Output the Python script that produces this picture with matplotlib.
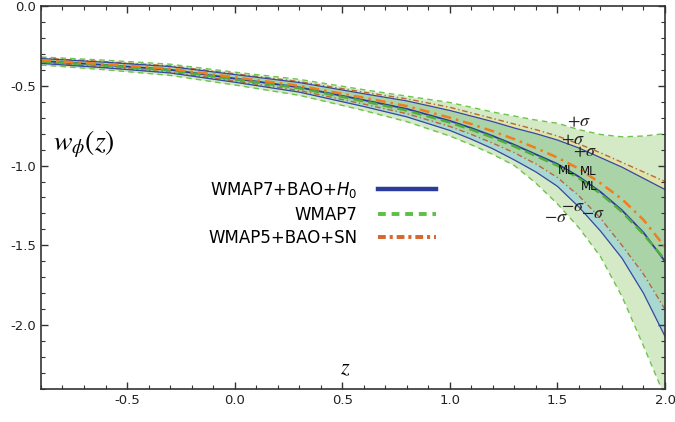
import matplotlib
matplotlib.use("Agg")
import matplotlib.pyplot as plt
from matplotlib.lines import Line2D
from matplotlib.font_manager import FontProperties
from matplotlib.ticker import MultipleLocator

plt.rcParams['axes.unicode_minus'] = False
plt.rcParams['mathtext.fontset'] = 'stix'

# redshift grid
z = [-0.9, -0.6, -0.3, 0.0, 0.3, 0.6, 0.8, 1.0, 1.1, 1.2, 1.3, 1.4, 1.5, 1.6, 1.7, 1.8, 1.9, 2.0]

# WMAP7 (green dashed)
wmap7_up = [-0.32, -0.34, -0.365, -0.415, -0.46, -0.525, -0.565, -0.605, -0.635, -0.665, -0.69, -0.715,
            -0.735, -0.775, -0.805, -0.82, -0.815, -0.80]
wmap7_ml = [-0.347, -0.373, -0.403, -0.46, -0.515, -0.597, -0.655, -0.73, -0.775, -0.825, -0.88, -0.94,
            -1.0, -1.08, -1.175, -1.29, -1.43, -1.59]
wmap7_lo = [-0.37, -0.40, -0.435, -0.495, -0.56, -0.655, -0.725, -0.815, -0.87, -0.93, -1.0, -1.11,
            -1.24, -1.39, -1.57, -1.82, -2.13, -2.45]

# WMAP7+BAO+H0 (blue solid)
bao_up = [-0.33, -0.353, -0.38, -0.43, -0.48, -0.55, -0.595, -0.655, -0.69, -0.725, -0.765, -0.80,
          -0.84, -0.89, -0.95, -1.01, -1.08, -1.15]
bao_ml = [-0.345, -0.37, -0.40, -0.455, -0.51, -0.59, -0.645, -0.72, -0.765, -0.815, -0.87, -0.93,
          -0.99, -1.07, -1.165, -1.28, -1.42, -1.60]
bao_lo = [-0.36, -0.388, -0.42, -0.478, -0.54, -0.63, -0.695, -0.78, -0.835, -0.895, -0.965, -1.04,
          -1.13, -1.26, -1.41, -1.58, -1.80, -2.07]

# WMAP5+BAO+SN (orange dash-dot)
sn_up = [-0.327, -0.35, -0.376, -0.425, -0.474, -0.54, -0.582, -0.635, -0.67, -0.705, -0.74, -0.775,
         -0.815, -0.865, -0.92, -0.98, -1.04, -1.10]
sn_ml = [-0.34, -0.365, -0.393, -0.447, -0.50, -0.575, -0.627, -0.70, -0.74, -0.785, -0.835, -0.89,
         -0.95, -1.02, -1.11, -1.21, -1.34, -1.51]
sn_lo = [-0.355, -0.383, -0.415, -0.47, -0.53, -0.615, -0.675, -0.755, -0.805, -0.86, -0.92, -0.99,
         -1.075, -1.19, -1.33, -1.50, -1.68, -1.90]

labels = ["WMAP7+BAO+$H_0$", "WMAP7", "WMAP5+BAO+SN"]

# curve annotations: (text, z, w)
notes = [
    ("$+\\sigma$", 1.60, -0.725), ("$+\\sigma$", 1.574, -0.838), ("$+\\sigma$", 1.63, -0.912),
    ("ML", 1.542, -1.031), ("ML", 1.644, -1.037), ("ML", 1.648, -1.131),
    ("$-\\sigma$", 1.574, -1.256), ("$-\\sigma$", 1.495, -1.325), ("$-\\sigma$", 1.667, -1.294),
]

fig = plt.figure(figsize=(6.75, 4.22), dpi=100)
ax = fig.add_axes([0.0607, 0.078, 0.9245, 0.908])

# bands
ax.fill_between(z, wmap7_lo, wmap7_up, color='#d4e9c6', lw=0)
ax.fill_between(z, bao_up, sn_up, color='#e1e4a7', lw=0)
ax.fill_between(z, sn_lo, bao_up, color='#abd3a8', lw=0)
ax.fill_between(z, bao_lo, sn_lo, color='#a8d8cf', lw=0)

# boundaries
for w in (wmap7_up, wmap7_lo):
    ax.plot(z, w, color='#6cc44c', lw=1.0, ls=(0, (4, 3)))
for w in (sn_up, sn_lo):
    ax.plot(z, w, color='#b8693d', lw=1.0, ls=(0, (4, 2, 1, 2)))
for w in (bao_up, bao_lo):
    ax.plot(z, w, color='#3548a2', lw=0.9)

# best fits
ax.plot(z, bao_ml, color='#2b3b9b', lw=1.3)
ax.plot(z, wmap7_ml, color='#4fae3c', lw=1.8, ls=(0, (4, 2)))
ax.plot(z, sn_ml, color='#f07d1e', lw=1.8, ls=(0, (4, 2, 1, 2)))

for txt, xx, yy in notes:
    if txt == "ML":
        ax.text(xx, yy, txt, fontsize=8.5, ha='center', va='center', color='#111111')
    else:
        ax.text(xx, yy, txt, fontsize=13, ha='center', va='center', color='#222222')

ax.text(0.068, 0.64, "$w_\\phi(z)$", transform=ax.transAxes, fontsize=20, ha='center', va='center')
ax.text(0.487, 0.055, "$z$", transform=ax.transAxes, fontsize=16, ha='center', va='center')

handles = [
    Line2D([], [], color='#2b3b9b', lw=3.2),
    Line2D([], [], color='#5cbf48', lw=2.8, ls=(0, (2, 1.5))),
    Line2D([], [], color='#d8652c', lw=2.8, ls=(0, (2, 1, 0.8, 1))),
]
leg_font = FontProperties(family='DejaVu Sans', size=12, math_fontfamily='dejavusans')
ax.legend(handles, labels, loc='center right', bbox_to_anchor=(0.647, 0.458), frameon=False,
          markerfirst=False, prop=leg_font, handlelength=3.5, handletextpad=1.25,
          labelspacing=0.32, borderpad=0)

ax.set_xlim(-0.9, 2.0)
ax.set_ylim(-2.4, 0.0)
ax.xaxis.set_major_locator(MultipleLocator(0.5))
ax.xaxis.set_minor_locator(MultipleLocator(0.1))
ax.yaxis.set_major_locator(MultipleLocator(0.5))
ax.yaxis.set_minor_locator(MultipleLocator(0.1))
ax.set_xticks([-0.5, 0.0, 0.5, 1.0, 1.5, 2.0])
ax.set_yticks([0.0, -0.5, -1.0, -1.5, -2.0])
ax.tick_params(which='both', direction='in', top=True, right=True, color='#333333',
               labelcolor='#222222', labelsize=9.5)
ax.tick_params(which='major', length=5, width=1)
ax.tick_params(which='minor', length=3, width=0.8)
for s in ax.spines.values():
    s.set_color('#333333')
    s.set_linewidth(1.2)

fig.savefig("out.png", dpi=100)
plt.close(fig)
